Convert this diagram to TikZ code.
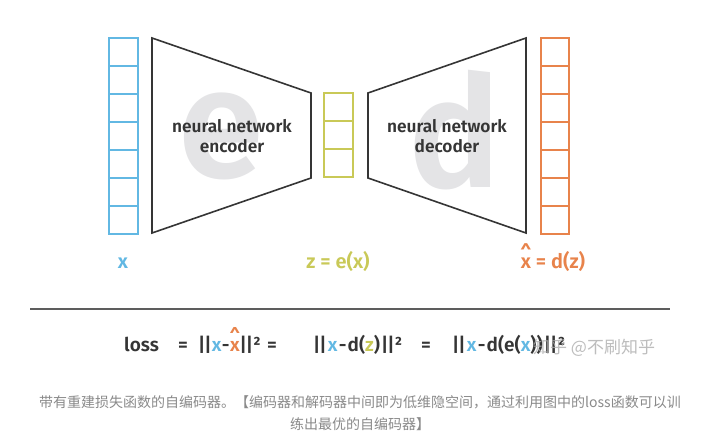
\documentclass[tikz,border=0pt]{standalone}
\usepackage{fontspec}
\setmainfont{Fira Sans}[BoldFont={Fira Sans SemiBold}]
\newfontfamily\cjk{Noto Sans CJK SC}
\usetikzlibrary{positioning}
\definecolor{ink}{HTML}{353535}
\definecolor{inBlue}{HTML}{62B8E3}
\definecolor{codeYel}{HTML}{C9C957}
\definecolor{outOra}{HTML}{E8834B}
\definecolor{ghost}{HTML}{E4E4E6}
\definecolor{quiet}{HTML}{8A8A8A}
\newcommand{\xhat}{\setbox0\hbox{x}\rlap{\hbox to\wd0{\hss\raisebox{0.4em}{\textasciicircum}\hss}}x}
\newcommand{\nbar}{|\kern-1pt|}
\newcommand{\gap}{\kern1.2pt}
\tikzset{cellline/.style={line width=1.6pt},
  net/.style={draw=ink,line width=1.6pt},
  big/.style={text=ghost,font=\fontsize{155}{155}\selectfont\bfseries,anchor=base,inner sep=0pt},
  lab/.style={font=\fontsize{20}{20}\selectfont\bfseries,anchor=base,inner sep=0pt},
  eq/.style={text=ink,font=\fontsize{19}{19}\selectfont\bfseries,anchor=base west,inner sep=0pt},
  netlab/.style={text=ink,font=\fontsize{17.3}{19.5}\selectfont\bfseries,align=center,inner sep=0pt}}

\begin{document}
\begin{tikzpicture}[x=1pt,y=-1pt]
  \useasboundingbox[fill=white] (0,0) rectangle (720,441);
  % ghost letters
  \node[big] (eBig) at (221,177) {e};
  \node[big] (dBig) at (455,187) {d};
  % encoder and decoder
  \draw[net] (152,38)--(311,93)--(311,178)--(152,233)--cycle;
  \draw[net] (368,93)--(526,38)--(526,233)--(368,178)--cycle;
  \node[netlab] (encTxt) at (232,136) {neural network\\encoder};
  \node[netlab] (decTxt) at (447,136) {neural network\\decoder};
  % columns of cells
  \draw[cellline,inBlue] (109,38) rectangle (138,234);
  \foreach \i in {1,...,6} \draw[cellline,inBlue] (109,38+28*\i)--(138,38+28*\i);
  \draw[cellline,codeYel] (324,93) rectangle (353,177);
  \foreach \i in {1,2} \draw[cellline,codeYel] (324,93+28*\i)--(353,93+28*\i);
  \draw[cellline,outOra] (541,38) rectangle (569,234);
  \foreach \i in {1,...,6} \draw[cellline,outOra] (541,38+28*\i)--(569,38+28*\i);
  % labels
  \node[lab,text=inBlue] (xLab) at (123,268) {x};
  \node[lab,text=codeYel] (zLab) at (338,268) {z = e(x)};
  \node[lab,text=outOra] (xhLab) at (553,268) {\xhat\ = d(z)};
  % divider and loss
  \draw[ink!80,line width=1.2pt] (30,309)--(670,309);
  \node[eq] (loss) at (124,351) {loss};
  \node[eq] (eqA) at (178,351) {=};
  \node[eq] (termA) at (198,351) {\nbar\textcolor{inBlue}{x}\kern0.5pt-\kern0.5pt\textcolor{outOra}{\xhat}\nbar²};
  \node[eq] (eqB) at ([xshift=6pt]termA.base east) {=};
  \node[eq] (termB) at (313,351) {\nbar\gap\textcolor{inBlue}{x}\gap-\gap d(\textcolor{codeYel}{z})\gap\nbar²};
  \node[eq] (eqC) at (421,351) {=};
  \node[eq] (termC) at (452,351) {\nbar\gap\textcolor{inBlue}{x}\gap-\gap d(e(\textcolor{inBlue}{x}))\gap\nbar²};
  \node[text=quiet!70,fill opacity=0.8,text opacity=0.8,font=\cjk\fontsize{17}{17}\selectfont,anchor=base west,inner sep=0pt] (mark) at (533,353) {知乎 @不刷知乎};
  % caption
  \node[text=quiet,font=\cjk\fontsize{14}{22}\selectfont,align=center] (cap) at (360,413)
    {带有重建损失函数的自编码器。【编码器和解码器中间即为低维隐空间，通过利用图中的loss函数可以训\\练出最优的自编码器】};
\end{tikzpicture}
\end{document}
